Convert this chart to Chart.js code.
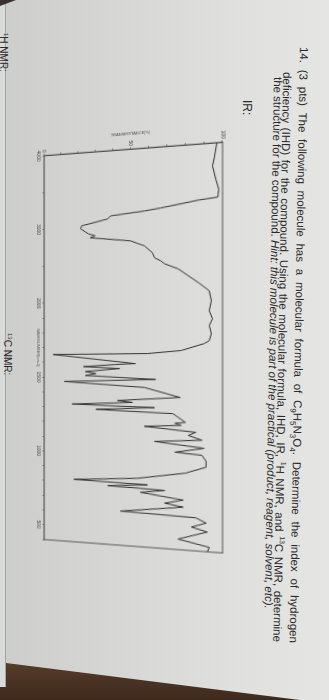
<!DOCTYPE html>
<html>
<head>
<meta charset="utf-8">
<script src="https://cdn.jsdelivr.net/npm/chart.js@4.4.0/dist/chart.umd.min.js"></script>
<style>
html, body { margin: 0; padding: 0; }
body {
  width: 329px; height: 700px; overflow: hidden; position: relative;
  background: linear-gradient(90deg, #cdcecc 0%, #d6d7d5 35%, #dfdfdd 70%, #e5e5e3 100%);
}
#strip { position: absolute; left: 0; top: 0; width: 5px; height: 690px; background: #d9dbda; border-right: 1px solid #a4a6a5; }
#corner { position: absolute; left: 0; top: 0; width: 16px; height: 6px; background: #3a3030; clip-path: polygon(0 0, 100% 0, 0 100%); }
#table {
  position: absolute; left: 0; top: 0; width: 329px; height: 700px;
  background: linear-gradient(180deg, #6b4a33 90%, #3e2a1d 100%);
  clip-path: polygon(0 687px, 6px 687px, 6px 663px, 300px 700px, 0 700px);
}
#page {
  position: absolute; left: 0; top: 0; width: 700px; height: 329px;
  transform-origin: 0 0; transform: translate(329px, 0) rotate(90deg);
  font-family: "Liberation Sans", Arial, sans-serif; color: #2a2a2a;
}
.q { position: absolute; font-size: 11.5px; line-height: 13px; transform-origin: 0 50%; transform: rotate(1deg); }
.just { text-align: justify; text-align-last: justify; }
.lbl { position: absolute; font-size: 12px; line-height: 13px; }
/* the photo is taken at a slant: the 100% side of the frame is wider */
#wrap {
  position: absolute; left: 104px; top: 95px; width: 462px; height: 214px;
  transform-origin: 243px 104px; transform: perspective(300px) rotateX(-6.5deg);
}
</style>
</head>
<body>
<div id="strip"></div>
<div id="page">
  <div class="q just" style="left:47px; top:19px; width:596px;">14. (3 pts) The following molecule has a molecular formula of C<sub style="font-size:8px">9</sub>H<sub style="font-size:8px">5</sub>N<sub style="font-size:8px">3</sub>O<sub style="font-size:8px">4</sub>. Determine the index of hydrogen</div>
  <div class="q just" style="left:72px; top:32px; width:570px;">deficiency (IHD) for the compound. Using the molecular formula, IHD, IR, <sup style="font-size:7px">1</sup>H NMR, and <sup style="font-size:7px">13</sup>C NMR, determine</div>
  <div class="q" style="left:77px; top:45px; width:600px;">the structure for the compound. <i>Hint: this molecule is part of the practical (product, reagent, solvent, etc).</i></div>
  <div class="lbl" style="left:100px; top:76px;">IR:</div>
  <div class="lbl" style="left:33px; top:317px; font-size:10px;"><sup style="font-size:6px">1</sup>H NMR:</div>
  <div class="lbl" style="left:333px; top:313px; font-size:10px;"><sup style="font-size:6px">13</sup>C NMR:</div>
  <div id="wrap"><canvas id="irChart" width="462" height="214"></canvas></div>
</div>
<div id="table"></div>
<div id="corner"></div>
<script>
// IR spectrum (wavenumber cm-1 / transmittance %)
const wavenumbers = [4000, 3830, 3706, 3539, 3410, 3309, 3284, 3208, 3180, 3138, 3100, 3024, 2985, 2914, 2883, 2860,
  2798, 2726, 2631, 2566, 2524, 2483, 2414, 2227, 2122, 1998, 1934, 1883, 1840, 1789, 1744, 1725, 1681, 1661, 1653,
  1595, 1588, 1573, 1562, 1540, 1528, 1514, 1493, 1472, 1440, 1379, 1352, 1341, 1322, 1310, 1290, 1274, 1220, 1212,
  1200, 1187, 1158, 1137, 1109, 1091, 1058, 1026, 1013, 976, 938, 894, 846, 818, 806, 788, 776, 756, 720, 694, 675,
  625, 612, 582, 551, 526, 468, 429, 400];
const transmittance = [97, 95.8, 94.7, 96.4, 98, 97.5, 87.4, 66.8, 57.8, 38.8, 37.2, 22.1, 21.5, 26, 29.9, 27.1,
  50, 57.8, 62.3, 63.4, 66.8, 69, 76.3, 87.4, 93, 94.1, 93, 94.7, 93, 94.1, 93, 90.2, 77.9, 59.5, 5.3,
  52.8, 41.1, 23.2, 43.9, 24.3, 30.4, 24.3, 64, 12, 57.8, 77.4, 42.7, 51.1, 16.5, 63.4, 30.4, 73.5, 80.2, 74.6,
  77.9, 57.8, 85.8, 81.8, 89.1, 63.4, 90.2, 74.6, 89.1, 91.3, 91.3, 80.2, 53.9, 17.6, 59.5, 37.2, 69, 55.6, 79, 69, 79,
  44.4, 85.8, 91.3, 83.5, 91.9, 76.3, 93, 92];
const xTickMarks = [4000, 3500, 3000, 2500, 2000, 1900, 1800, 1700, 1600, 1500, 1400, 1300, 1200, 1100, 1000,
  900, 800, 700, 600, 500, 400];
const xTickLabels = [4000, 3000, 2000, 1500, 1000, 500];
const yTickLabels = [0, 50, 100];

// SDBS style axis: 4000-2000 drawn at half the scale of 2000-400
function toAxis(w) { return w >= 2000 ? (4000 - w) / 2 : 1000 + (2000 - w); }
function fromAxis(u) { return u <= 1000 ? 4000 - 2 * u : 2000 - (u - 1000); }

const tiny = { size: 5, family: 'Liberation Sans' };
const framePlugin = {
  id: 'frame',
  afterDraw(chart) {
    const { ctx, chartArea: a } = chart;
    ctx.save();
    ctx.strokeStyle = '#4a4a4a';
    ctx.lineWidth = 0.9;
    ctx.strokeRect(a.left, a.top, a.right - a.left, a.bottom - a.top);
    ctx.restore();
  }
};

new Chart(document.getElementById('irChart'), {
  type: 'line',
  data: {
    datasets: [{
      data: wavenumbers.map((w, i) => ({ x: toAxis(w), y: transmittance[i] })),
      borderColor: '#333',
      borderWidth: 1,
      pointRadius: 0,
      tension: 0,
      fill: false
    }]
  },
  options: {
    responsive: false,
    animation: false,
    devicePixelRatio: 1,
    layout: { padding: { left: 26, right: 20, top: 14, bottom: 12 } },
    plugins: { legend: { display: false }, tooltip: { enabled: false } },
    scales: {
      x: {
        type: 'linear', min: 0, max: 2600,
        afterBuildTicks: s => { s.ticks = xTickMarks.map(w => ({ value: toAxis(w) })); },
        ticks: {
          autoSkip: false, maxRotation: 0, padding: 1, font: tiny, color: '#444',
          callback: v => { const w = Math.round(fromAxis(v)); return xTickLabels.includes(w) ? String(w) : ''; }
        },
        grid: { drawOnChartArea: false, tickLength: 2, color: '#555', lineWidth: 0.7 },
        border: { color: '#4a4a4a', width: 0.9 },
        title: { display: true, text: 'WAVENUMBER[cm-1]', font: { size: 4, family: 'Liberation Sans' }, color: '#555', padding: { top: -6, bottom: 0 } }
      },
      y: {
        min: 0, max: 100,
        ticks: {
          stepSize: 10, autoSkip: false, padding: 1, font: tiny, color: '#444',
          callback: v => yTickLabels.includes(v) ? String(v) : ''
        },
        grid: { drawOnChartArea: false, tickLength: 2, color: '#555', lineWidth: 0.7 },
        border: { color: '#4a4a4a', width: 0.9 },
        title: { display: true, text: 'TRANSMITTANCE[%]', font: { size: 4, family: 'Liberation Sans' }, color: '#555', padding: 1 }
      }
    }
  },
  plugins: [framePlugin]
});
</script>
</body>
</html>
